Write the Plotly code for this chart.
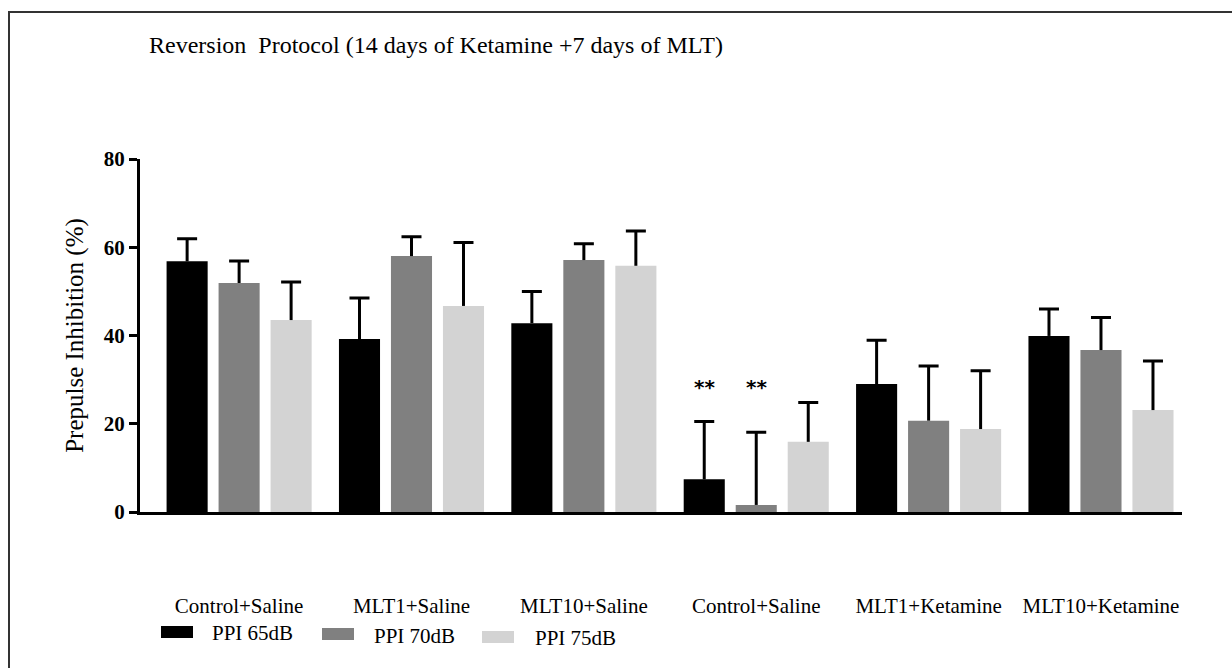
import plotly.graph_objects as go

groups = ["Control+Saline", "MLT1+Saline", "MLT10+Saline",
          "Control+Saline", "MLT1+Ketamine", "MLT10+Ketamine"]
series_names = ["PPI 65dB", "PPI 70dB", "PPI 75dB"]
ppi65 = [56.8, 39.2, 42.8, 7.4, 29.0, 39.9]
ppi70 = [51.9, 58.0, 57.1, 1.6, 20.7, 36.7]
ppi75 = [43.5, 46.7, 55.8, 15.9, 18.8, 23.1]
sem65 = [5.1, 9.3, 7.2, 13.1, 9.9, 6.1]
sem70 = [5.0, 4.4, 3.7, 16.5, 12.4, 7.4]
sem75 = [8.6, 14.4, 7.9, 8.9, 13.2, 11.1]
colors = ["#000000", "#808080", "#d3d3d3"]
yticks = [0, 20, 40, 60, 80]

W, H = 1232, 668
L, R, T, B = 140, 1182, 159, 512


def px(x):
    return (x - L) / (R - L)


def py(y):
    return (B - y) / (B - T)


xpos = list(range(len(groups)))
fig = go.Figure()
for i, (name, vals, errs, col) in enumerate(zip(series_names, [ppi65, ppi70, ppi75],
                                                [sem65, sem70, sem75], colors)):
    # visible bar with error stem only
    fig.add_trace(go.Bar(
        x=xpos, y=vals, name=name, offsetgroup=str(i),
        marker=dict(color=col, line=dict(width=0)),
        error_y=dict(type="data", array=errs, arrayminus=[0] * len(errs),
                     symmetric=False, color="black", thickness=3, width=0),
        showlegend=False))
    # transparent companion bar carrying only the error cap at mean+SEM
    tops = [v + e for v, e in zip(vals, errs)]
    fig.add_trace(go.Bar(
        x=xpos, y=tops, offsetgroup=str(i), hoverinfo="skip",
        marker=dict(color="rgba(0,0,0,0)", line=dict(width=0)),
        error_y=dict(type="data", array=[0] * len(tops), arrayminus=[0] * len(tops),
                     symmetric=False, color="black", thickness=3, width=10),
        showlegend=False))

serif = "Liberation Serif, Times New Roman, serif"

fig.update_layout(
    width=W, height=H,
    margin=dict(l=L, r=W - R, t=T, b=H - B, pad=0),
    paper_bgcolor="white", plot_bgcolor="white",
    barmode="group", bargap=0.095, bargroupgap=0.21,
    font=dict(family=serif, color="black"),
    xaxis=dict(range=[-0.575, 5.47], tickvals=xpos, ticktext=groups,
               showline=True, linecolor="black", linewidth=3,
               ticks="", showgrid=False, zeroline=False,
               tickfont=dict(family=serif, size=21, color="black"),
               ticklabelstandoff=73),
    yaxis=dict(range=[0, 80], tickvals=yticks, showline=True,
               linecolor="black", linewidth=3, ticks="outside", ticklen=8,
               tickwidth=3, tickcolor="black", showgrid=False, zeroline=False,
               tickfont=dict(family=serif, size=21, color="black", weight="bold"),
               title=dict(text="Prepulse Inhibition (%)",
                          font=dict(family=serif, size=25, color="black"),
                          standoff=14)),
)

annotations = [
    dict(text="Reversion  Protocol (14 days of Ketamine +7 days of MLT)",
         xref="paper", yref="paper", x=px(147), y=py(45), xanchor="left",
         yanchor="middle", showarrow=False,
         font=dict(family=serif, size=24, color="black")),
]
# significance markers above Control+Saline (Ketamine group) bars
for off in [-0.3016, 0.0]:
    annotations.append(dict(text="<b>**</b>", x=3 + off, y=28.3, xref="x", yref="y",
                            showarrow=False, yanchor="middle",
                            font=dict(family="DejaVu Sans, sans-serif", size=20, color="black")))

# manual legend with wide swatches
legend_items = [(161, 193, 626, 638, 210, 633),
                (322, 354, 628, 640, 372, 636),
                (482, 514, 631, 643, 533, 638)]
shapes = []
for (x0, x1, y0, y1, tx, ty), name, col in zip(legend_items, series_names, colors):
    shapes.append(dict(type="rect", xref="paper", yref="paper",
                       x0=px(x0), x1=px(x1), y0=py(y1), y1=py(y0),
                       fillcolor=col, line=dict(width=0)))
    annotations.append(dict(text=name, xref="paper", yref="paper", x=px(tx), y=py(ty),
                            xanchor="left", yanchor="middle", showarrow=False,
                            font=dict(family=serif, size=21, color="black")))

# outer frame (top and left edges visible)
shapes.append(dict(type="rect", xref="paper", yref="paper",
                   x0=px(9), x1=px(1245), y0=py(680), y1=py(12),
                   line=dict(color="#333333", width=2), fillcolor="rgba(0,0,0,0)",
                   layer="below"))

fig.update_layout(annotations=annotations, shapes=shapes)
fig.write_html("out.html")
